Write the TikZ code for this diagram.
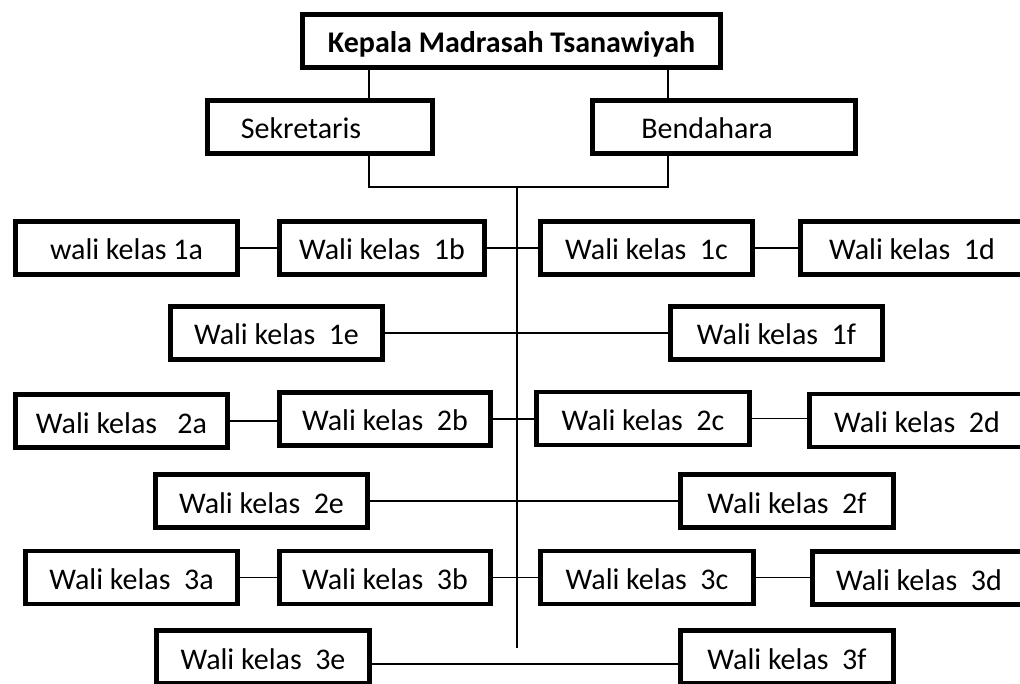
\documentclass[tikz,border=0pt]{standalone}
\usepackage{fontspec}
\setmainfont{Carlito}
\begin{document}
\begin{tikzpicture}[x=1pt,y=-1pt,
  box/.style={draw, line width=4.5pt, inner sep=0pt, minimum height=53pt,
    text height=24pt, text depth=0pt, font=\fontsize{30}{36}\selectfont},
  conn/.style={line width=1.8pt}]
\useasboundingbox (0,0) rectangle (1020,684);
\clip (0,0) rectangle (1020,684);
% top levels
\node[box, minimum width=418pt, font=\fontsize{30}{36}\selectfont\bfseries] (top) at (511.5,41) {Kepala Madrasah Tsanawiyah};
\node[box, minimum width=225pt] (sek) at (320,127) {Sekretaris\hspace*{38pt}};
\node[box, minimum width=263pt] (ben) at (724,127) {Bendahara\hspace*{34pt}};
% row 1
\node[box, minimum width=222pt] (w1a) at (126.5,248) {wali kelas 1a};
\node[box, minimum width=205pt] (w1b) at (382,248) {Wali kelas\ \ 1b};
\node[box, minimum width=212pt] (w1c) at (646.5,248) {Wali kelas\ \ 1c};
\node[box, minimum width=223pt] (w1d) at (912,248) {Wali kelas\ \ 1d};
\node[box, minimum width=212pt] (w1e) at (276.5,333) {Wali kelas\ \ 1e};
\node[box, minimum width=212pt] (w1f) at (776.5,333) {Wali kelas\ \ 1f};
% row 2
\node[box, minimum width=212pt] (w2a) at (121.5,421) {Wali kelas\ \ \ 2a};
\node[box, minimum width=211pt] (w2b) at (385,419) {Wali kelas\ \ 2b};
\node[box, minimum width=213pt] (w2c) at (643,418.5) {Wali kelas\ \ 2c};
\node[box, minimum width=215pt] (w2d) at (917,420.5) {Wali kelas\ \ 2d};
\node[box, minimum width=212pt] (w2e) at (261.5,501) {Wali kelas\ \ 2e};
\node[box, minimum width=213pt] (w2f) at (787,501) {Wali kelas\ \ 2f};
% row 3
\node[box, minimum width=212pt] (w3a) at (131.5,577.5) {Wali kelas\ \ 3a};
\node[box, minimum width=211pt] (w3b) at (385,577.5) {Wali kelas\ \ 3b};
\node[box, minimum width=213pt] (w3c) at (647,577.5) {Wali kelas\ \ 3c};
\node[box, minimum width=213pt] (w3d) at (919,578) {Wali kelas\ \ 3d};
\node[box, minimum width=213pt] (w3e) at (263,657) {Wali kelas\ \ 3e};
\node[box, minimum width=213pt] (w3f) at (787,657) {Wali kelas\ \ 3f};
% connectors
\coordinate (junc) at (517,187);
\coordinate (tend) at (517,648);
\draw[conn] ([xshift=49pt]sek.north) -- ([xshift=49pt]sek.north |- top.south);
\draw[conn] ([xshift=-56pt]ben.north) -- ([xshift=-56pt]ben.north |- top.south);
\draw[conn] ([xshift=49pt]sek.south) |- (junc) -| ([xshift=-56pt]ben.south);
\draw[conn] (junc) -- (tend);
\draw[conn] (w1a.east) -- (w1a.east -| w1b.west);
\draw[conn] (w1b.east) -- (w1b.east -| w1c.west);
\draw[conn] (w1c.east) -- (w1c.east -| w1d.west);
\draw[conn] (w1e.east) -- (w1e.east -| w1f.west);
\draw[conn] (w2a.east) -- (w2a.east -| w2b.west);
\draw[conn] (w2b.east) -- (w2b.east -| w2c.west);
\draw[conn] (w2c.east) -- (w2c.east -| w2d.west);
\draw[conn] (w2e.east) -- (w2e.east -| w2f.west);
\draw[conn] (w3a.east) -- (w3a.east -| w3b.west);
\draw[conn] (w3b.east) -- (w3b.east -| w3c.west);
\draw[conn] (w3c.east) -- (w3c.east -| w3d.west);
\draw[conn] ([yshift=-7pt]w3e.east) -- ([yshift=-7pt]w3f.west);
\end{tikzpicture}
\end{document}
